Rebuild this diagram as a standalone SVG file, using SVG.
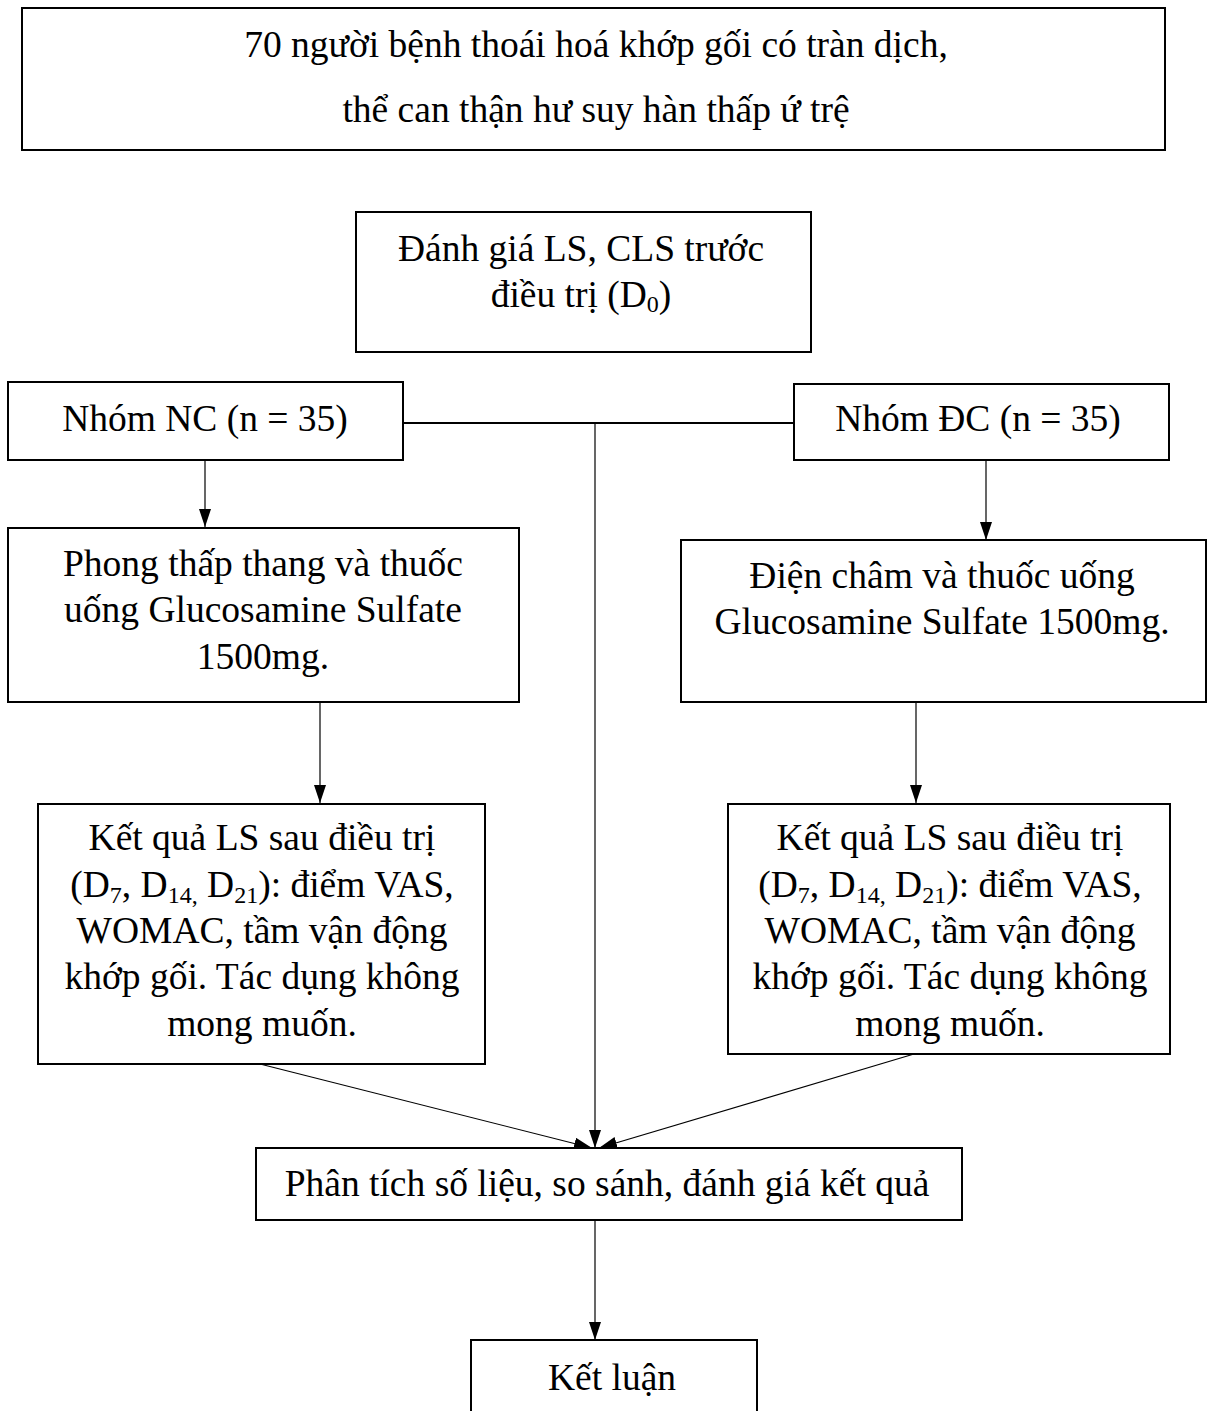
<svg xmlns="http://www.w3.org/2000/svg" width="1208" height="1411" viewBox="0 0 1208 1411">
<style>
.box{fill:#fff;stroke:#000;stroke-width:2}
.t{font-family:"Liberation Serif","Times New Roman",serif;font-size:37.5px;fill:#000;text-anchor:middle}
.sub{font-size:24px}
.c{stroke:#000;stroke-width:1.2;fill:none}
</style>
<defs>
<marker id="ah" markerUnits="userSpaceOnUse" markerWidth="18" markerHeight="12" refX="18" refY="6" orient="auto">
<path d="M0,0 L18,6 L0,12 z" fill="#000"/>
</marker>
</defs>
<rect width="1208" height="1411" fill="#fff"/>
<g id="connectors">
<line class="c" x1="403" y1="423" x2="793" y2="423" style="stroke-width:2.2"/>
<line class="c" x1="595" y1="423" x2="595" y2="1148" marker-end="url(#ah)"/>
<line class="c" x1="205" y1="460" x2="205" y2="527" marker-end="url(#ah)"/>
<line class="c" x1="986" y1="460" x2="986" y2="540" marker-end="url(#ah)"/>
<line class="c" x1="320" y1="702" x2="320" y2="803" marker-end="url(#ah)"/>
<line class="c" x1="916" y1="702" x2="916" y2="803" marker-end="url(#ah)"/>
<line class="c" x1="260" y1="1064" x2="592" y2="1148" marker-end="url(#ah)"/>
<line class="c" x1="914" y1="1054" x2="599" y2="1148" marker-end="url(#ah)"/>
<line class="c" x1="595" y1="1220" x2="595" y2="1340" marker-end="url(#ah)"/>
</g>
<g id="n-top">
<rect class="box" x="22" y="8" width="1143" height="142"/>
<text class="t" x="596" y="57">70 người bệnh thoái hoá khớp gối có tràn dịch,</text>
<text class="t" x="596" y="122">thể can thận hư suy hàn thấp ứ trệ</text>
</g>
<g id="n-eval">
<rect class="box" x="356" y="212" width="455" height="140"/>
<text class="t" x="581" y="261">Đánh giá LS, CLS trước</text>
<text class="t" x="581" y="307">điều trị (D<tspan class="sub" dy="5">0</tspan><tspan dy="-5">)</tspan></text>
</g>
<g id="n-nc">
<rect class="box" x="8" y="382" width="395" height="78"/>
<text class="t" x="205" y="431">Nhóm NC (n = 35)</text>
</g>
<g id="n-dc">
<rect class="box" x="794" y="384" width="375" height="76"/>
<text class="t" x="978" y="431">Nhóm ĐC (n = 35)</text>
</g>
<g id="n-phong">
<rect class="box" x="8" y="528" width="511" height="174"/>
<text class="t" x="263" y="576">Phong thấp thang và thuốc</text>
<text class="t" x="263" y="622">uống Glucosamine Sulfate</text>
<text class="t" x="263" y="669">1500mg.</text>
</g>
<g id="n-dien">
<rect class="box" x="681" y="540" width="525" height="162"/>
<text class="t" x="942" y="588">Điện châm và thuốc uống</text>
<text class="t" x="942" y="634">Glucosamine Sulfate 1500mg.</text>
</g>
<g id="n-kq-left">
<rect class="box" x="38" y="804" width="447" height="260"/>
<text class="t" x="262" y="850">Kết quả LS sau điều trị</text>
<text class="t" x="262" y="897">(D<tspan class="sub" dy="6">7</tspan><tspan dy="-6">, D</tspan><tspan class="sub" dy="6">14,</tspan><tspan dy="-6"> D</tspan><tspan class="sub" dy="6">21</tspan><tspan dy="-6">): điểm VAS,</tspan></text>
<text class="t" x="262" y="943">WOMAC, tầm vận động</text>
<text class="t" x="262" y="989">khớp gối. Tác dụng không</text>
<text class="t" x="262" y="1036">mong muốn.</text>
</g>
<g id="n-kq-right">
<rect class="box" x="728" y="804" width="442" height="250"/>
<text class="t" x="950" y="850">Kết quả LS sau điều trị</text>
<text class="t" x="950" y="897">(D<tspan class="sub" dy="6">7</tspan><tspan dy="-6">, D</tspan><tspan class="sub" dy="6">14,</tspan><tspan dy="-6"> D</tspan><tspan class="sub" dy="6">21</tspan><tspan dy="-6">): điểm VAS,</tspan></text>
<text class="t" x="950" y="943">WOMAC, tầm vận động</text>
<text class="t" x="950" y="989">khớp gối. Tác dụng không</text>
<text class="t" x="950" y="1036">mong muốn.</text>
</g>
<g id="n-analysis">
<rect class="box" x="256" y="1148" width="706" height="72"/>
<text class="t" x="607" y="1196">Phân tích số liệu, so sánh, đánh giá kết quả</text>
</g>
<g id="n-conclusion">
<rect class="box" x="471" y="1340" width="286" height="90"/>
<text class="t" x="612" y="1390">Kết luận</text>
</g>
</svg>
